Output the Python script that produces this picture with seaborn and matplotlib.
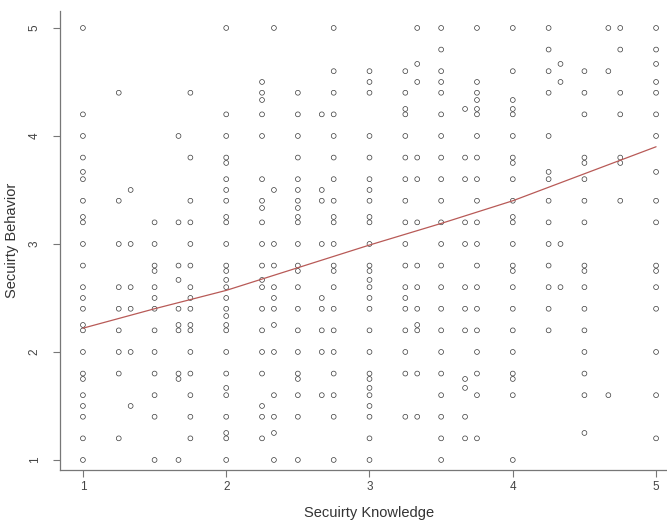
import matplotlib
matplotlib.use("Agg")
import matplotlib.pyplot as plt
import seaborn as sns
import numpy as np
import pandas as pd

# Security knowledge columns (x) and the behaviour scores observed in each column (y)
knowledge_levels = [1, 1.25, 1.333, 1.5, 1.667, 1.75, 2, 2.25, 2.333, 2.5, 2.667, 2.75,
                    3, 3.25, 3.333, 3.5, 3.667, 3.75, 4, 4.25, 4.333, 4.5, 4.667, 4.75, 5]

beh_1_000 = [5, 4.2, 4.0, 3.8, 3.667, 3.6, 3.4, 3.25, 3.2, 3.0, 2.8, 2.6, 2.5, 2.4, 2.25, 2.2,
             2.0, 1.8, 1.75, 1.6, 1.5, 1.4, 1.2, 1.0]
beh_1_250 = [4.4, 3.4, 3.0, 2.6, 2.4, 2.2, 2.0, 1.8, 1.2]
beh_1_333 = [3.5, 3.0, 2.6, 2.4, 2.0, 1.5]
beh_1_500 = [3.2, 3.0, 2.8, 2.75, 2.6, 2.5, 2.4, 2.2, 2.0, 1.8, 1.6, 1.4, 1.0]
beh_1_667 = [4.0, 3.2, 2.8, 2.667, 2.4, 2.25, 2.2, 1.8, 1.75, 1.0]
beh_1_750 = [4.4, 3.8, 3.4, 3.2, 3.0, 2.8, 2.6, 2.5, 2.4, 2.25, 2.2, 2.0, 1.8, 1.6, 1.4, 1.2]
beh_2_000 = [5.0, 4.2, 4.0, 3.8, 3.75, 3.6, 3.5, 3.4, 3.25, 3.2, 3.0, 2.8, 2.75, 2.667, 2.6,
             2.5, 2.4, 2.333, 2.25, 2.2, 2.0, 1.8, 1.667, 1.6, 1.4, 1.25, 1.2, 1.0]
beh_2_250 = [4.5, 4.4, 4.333, 4.2, 4.0, 3.6, 3.4, 3.333, 3.2, 3.0, 2.8, 2.667, 2.6, 2.4, 2.2,
             2.0, 1.8, 1.5, 1.4, 1.2]
beh_2_333 = [5.0, 3.5, 3.0, 2.8, 2.6, 2.5, 2.4, 2.25, 2.0, 1.6, 1.4, 1.25, 1.0]
beh_2_500 = [4.4, 4.2, 4.0, 3.8, 3.6, 3.5, 3.4, 3.333, 3.25, 3.2, 3.0, 2.8, 2.75, 2.6, 2.4,
             2.2, 2.0, 1.8, 1.75, 1.6, 1.4, 1.0]
beh_2_667 = [4.2, 3.5, 3.4, 3.0, 2.5, 2.4, 2.2, 2.0, 1.6]
beh_2_750 = [5.0, 4.6, 4.4, 4.2, 4.0, 3.8, 3.6, 3.4, 3.25, 3.2, 3.0, 2.8, 2.75, 2.6, 2.4,
             2.2, 2.0, 1.8, 1.6, 1.4, 1.0]
beh_3_000 = [4.6, 4.5, 4.4, 4.0, 3.8, 3.6, 3.5, 3.4, 3.25, 3.2, 3.0, 2.8, 2.75, 2.667, 2.6,
             2.5, 2.4, 2.2, 2.0, 1.8, 1.75, 1.667, 1.6, 1.5, 1.4, 1.2, 1.0]
beh_3_250 = [4.6, 4.4, 4.25, 4.2, 4.0, 3.8, 3.6, 3.4, 3.2, 3.0, 2.8, 2.6, 2.5, 2.4, 2.2,
             2.0, 1.8, 1.4]
beh_3_333 = [5.0, 4.667, 4.5, 3.8, 3.6, 3.2, 2.8, 2.6, 2.4, 2.25, 2.2, 1.8, 1.4]
beh_3_500 = [5.0, 4.8, 4.6, 4.5, 4.4, 4.2, 4.0, 3.8, 3.6, 3.4, 3.2, 3.0, 2.8, 2.6, 2.4,
             2.2, 2.0, 1.8, 1.6, 1.4, 1.2, 1.0]
beh_3_667 = [4.25, 3.8, 3.6, 3.2, 3.0, 2.6, 2.4, 2.2, 1.75, 1.667, 1.4, 1.2]
beh_3_750 = [5.0, 4.5, 4.4, 4.333, 4.25, 4.2, 4.0, 3.8, 3.6, 3.4, 3.2, 3.0, 2.8, 2.6, 2.4,
             2.2, 2.0, 1.8, 1.6, 1.2]
beh_4_000 = [5.0, 4.6, 4.333, 4.25, 4.2, 4.0, 3.8, 3.75, 3.6, 3.4, 3.25, 3.2, 3.0, 2.8,
             2.75, 2.6, 2.4, 2.2, 2.0, 1.8, 1.75, 1.6, 1.0]
beh_4_250 = [5.0, 4.8, 4.6, 4.4, 4.0, 3.667, 3.6, 3.4, 3.2, 3.0, 2.8, 2.6, 2.4, 2.2]
beh_4_333 = [4.667, 4.5, 3.0, 2.6]
beh_4_500 = [4.6, 4.4, 4.2, 3.8, 3.75, 3.6, 3.4, 3.2, 2.8, 2.75, 2.6, 2.4, 2.2, 2.0, 1.8,
             1.6, 1.25]
beh_4_667 = [5.0, 4.6, 1.6]
beh_4_750 = [5.0, 4.8, 4.4, 4.2, 3.8, 3.75, 3.4]
beh_5_000 = [5.0, 4.8, 4.667, 4.5, 4.4, 4.2, 4.0, 3.667, 3.4, 3.2, 2.8, 2.75, 2.6, 2.4,
             2.0, 1.6, 1.2]

behaviour_columns = [beh_1_000, beh_1_250, beh_1_333, beh_1_500, beh_1_667, beh_1_750,
                     beh_2_000, beh_2_250, beh_2_333, beh_2_500, beh_2_667, beh_2_750,
                     beh_3_000, beh_3_250, beh_3_333, beh_3_500, beh_3_667, beh_3_750,
                     beh_4_000, beh_4_250, beh_4_333, beh_4_500, beh_4_667, beh_4_750,
                     beh_5_000]

# smoothed trend
trend_x = [1, 1.5, 2, 2.5, 3, 3.5, 4, 4.5, 5]
trend_y = [2.22, 2.40, 2.57, 2.78, 2.99, 3.19, 3.40, 3.65, 3.90]

rows = [(k, b) for k, col in zip(knowledge_levels, behaviour_columns) for b in col]
df = pd.DataFrame(rows, columns=["knowledge", "behavior"])
trend = pd.DataFrame({"knowledge": trend_x, "behavior": trend_y})

sns.set_style("ticks")
plt.rcParams['font.family'] = ['Liberation Sans', 'DejaVu Sans']

fig = plt.figure(figsize=(6.67, 5.25), dpi=100)
# axes run past the right edge, as in the cropped original
ax = fig.add_axes([60 / 667, 55 / 525, 619 / 667, 459 / 525])

sns.scatterplot(data=df, x="knowledge", y="behavior", ax=ax, marker="o", s=12,
                facecolors="none", edgecolor="#3a3a3a", linewidth=0.5)
sns.lineplot(data=trend, x="knowledge", y="behavior", ax=ax, color="#b85a57", linewidth=0.9)

ax.set_xlim(0.84, 5.16)
ax.set_ylim(0.907, 5.157)
ax.set_xticks([1, 2, 3, 4, 5])
ax.set_yticks([1, 2, 3, 4, 5])
ax.tick_params(axis="both", direction="out", length=5, width=0.8, color="#777777",
               labelsize=8.5, labelcolor="#444444")
ax.tick_params(axis="x", pad=3)
ax.tick_params(axis="y", pad=9)
for lab in ax.get_yticklabels():
    lab.set_rotation(90)
    lab.set_va("center")
ax.set_xlabel("Secuirty Knowledge", fontsize=10.5, color="#333333", labelpad=9)
ax.set_ylabel("Secuirty Behavior", fontsize=10.5, color="#333333", labelpad=7)

sns.despine(ax=ax)
for side in ["left", "bottom"]:
    ax.spines[side].set_color("#777777")
    ax.spines[side].set_linewidth(0.9)

fig.savefig("out.png", dpi=100)
